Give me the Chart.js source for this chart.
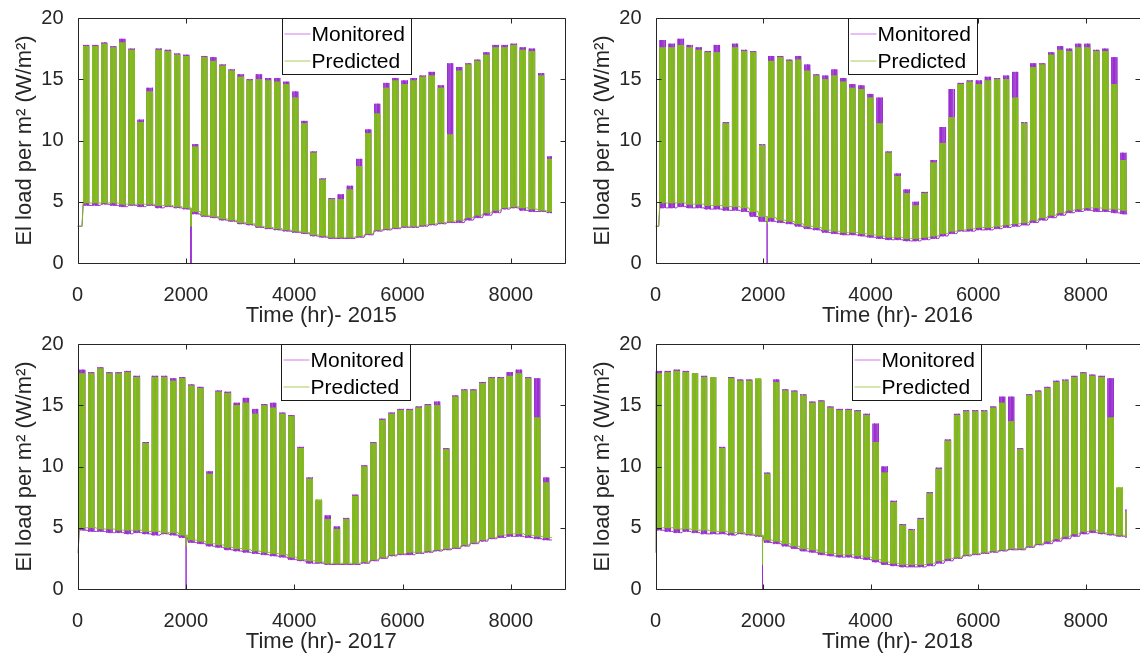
<!DOCTYPE html>
<html>
<head>
<meta charset="utf-8">
<script src="https://cdn.jsdelivr.net/npm/chart.js@4.4.1/dist/chart.umd.min.js"></script>
<style>
html,body{margin:0;padding:0;background:#fff;overflow:hidden;width:1140px;height:654px;position:relative}
canvas{position:absolute}
</style>
</head>
<body>
<canvas id="c2015" width="580" height="332" style="left:0;top:0"></canvas>
<canvas id="c2016" width="580" height="332" style="left:578px;top:0"></canvas>
<canvas id="c2017" width="580" height="332" style="left:0;top:326px"></canvas>
<canvas id="c2018" width="580" height="332" style="left:578px;top:326px"></canvas>
<script>
// ---------- tick labels ----------
const xTicks = [0, 2000, 4000, 6000, 8000];
const yTicks = [0, 5, 10, 15, 20];
const seriesNames = ['Monitored', 'Predicted'];
const years = [2015, 2016, 2017, 2018];
const yearHours = [8760, 8784, 8760, 8760];
const firstMondayHour = [96, 72, 24, 0];
const startLevel = [3.0, 3.0, 3.0, 3.0];
const dstHour = [2095, 2075, 2005, 1990];
const dstMonitored = [0, 0, 0, 0];
const dstPredicted = [3.0, 3.2, 3.5, 2.0];

// ---------- weekly working-day peaks and base loads (W/m2) ----------
const monPeak2015 = [17.8,17.8,18.0,17.7,18.3,17.5,11.7,14.3,17.5,17.4, 17.1,17.0,9.7,16.9,16.8,16.2,15.8,15.4,15.0,15.4, 15.1,15.1,14.8,14.0,11.6,9.1,6.9,5.3,5.6,6.3, 8.5,10.9,13.0,14.7,15.1,14.9,15.1,15.3,15.6,14.5, 16.3,16.0,16.3,16.6,17.2,17.8,17.8,17.9,17.6,17.5, 15.5,8.7];
const predPeak2015 = [17.7,17.7,17.9,17.6,18.0,17.4,11.5,14.0,17.4,17.3, 17.0,16.9,9.5,16.8,16.5,16.1,15.7,15.2,14.9,15.0, 14.9,14.8,14.6,13.5,11.4,9.0,6.8,5.2,5.2,6.0, 7.9,10.6,12.2,14.3,14.9,14.6,14.9,15.2,15.3,14.3, 10.5,15.7,16.2,16.5,17.0,17.6,17.6,17.8,17.4,17.3, 15.3,8.5];
const monBase2015 = [4.7,4.7,4.8,4.7,4.6,4.7,4.6,4.7,4.5,4.6, 4.5,4.4,4.0,3.8,3.7,3.5,3.4,3.2,3.1,2.9, 2.8,2.7,2.6,2.5,2.4,2.2,2.1,2.0,2.0,2.0, 2.1,2.3,2.6,2.7,2.8,2.9,2.9,3.0,3.1,3.2, 3.3,3.3,3.5,3.7,3.9,4.1,4.4,4.5,4.3,4.2, 4.2,4.1];
const predBase2015 = [4.9,4.9,4.9,4.9,4.8,4.8,4.8,4.8,4.7,4.7, 4.6,4.5,4.2,3.9,3.8,3.6,3.5,3.3,3.2,3.0, 2.9,2.8,2.7,2.6,2.5,2.3,2.2,2.1,2.1,2.1, 2.2,2.4,2.7,2.8,2.9,3.0,3.0,3.1,3.2,3.3, 3.4,3.5,3.7,3.9,4.1,4.3,4.5,4.6,4.5,4.4, 4.3,4.2];

const monPeak2016 = [18.2,17.9,18.3,17.8,17.6,17.3,17.8,11.5,17.9,17.4, 17.3,9.7,16.9,16.9,16.6,16.9,16.2,15.4,15.3,15.8, 15.1,14.6,14.5,13.8,13.5,9.1,7.3,6.0,5.0,5.8, 8.4,11.1,14.2,14.7,14.9,14.9,15.2,15.1,15.3,15.6, 11.5,16.3,16.3,17.2,17.7,17.5,17.9,17.9,17.4,17.5, 16.8,9.0];
const predPeak2016 = [17.6,17.6,17.8,17.6,17.4,17.2,17.2,11.4,17.6,17.3, 17.2,9.6,16.5,16.8,16.5,16.6,15.7,15.3,15.0,15.3, 14.8,14.3,14.2,13.5,11.4,9.0,7.1,5.7,4.7,5.7, 8.2,9.8,11.9,14.6,14.8,14.6,14.9,15.0,15.0,13.5, 11.4,16.0,16.2,17.0,17.4,17.3,17.6,17.6,17.3,17.3, 14.6,8.4];
const monBase2016 = [4.5,4.5,4.6,4.5,4.5,4.4,4.4,4.3,4.3,4.2, 3.8,3.4,3.4,3.3,3.2,3.0,2.8,2.7,2.5,2.4, 2.3,2.3,2.2,2.1,2.0,1.9,1.9,1.8,1.8,1.9, 2.0,2.2,2.4,2.6,2.6,2.7,2.7,2.8,2.9,3.0, 3.1,3.3,3.5,3.7,3.9,4.1,4.2,4.3,4.2,4.2, 4.1,4.0];
const predBase2016 = [4.9,4.9,4.9,4.8,4.8,4.7,4.7,4.6,4.6,4.5, 4.2,3.8,3.7,3.5,3.4,3.2,3.0,2.9,2.7,2.6, 2.5,2.5,2.4,2.3,2.2,2.1,2.1,2.0,2.0,2.1, 2.2,2.4,2.6,2.7,2.8,2.9,2.9,3.0,3.1,3.2, 3.3,3.5,3.7,3.9,4.1,4.3,4.4,4.5,4.5,4.4, 4.4,4.3];

const monPeak2017 = [17.9,17.7,18.1,17.7,17.7,17.8,17.4,12.0,17.4,17.4, 17.2,17.3,16.7,16.5,9.6,16.2,16.1,15.2,15.6,14.7, 15.1,15.2,14.4,14.2,11.6,9.1,7.2,6.0,5.1,5.8, 7.7,10.1,12.0,13.9,14.4,14.7,14.7,14.9,15.1,15.3, 11.5,15.8,16.3,16.3,16.9,17.3,17.3,17.7,17.9,17.3, 17.2,9.1];
const predPeak2017 = [17.6,17.6,18.0,17.6,17.6,17.7,17.3,11.9,17.3,17.3, 17.0,17.2,16.6,16.4,9.4,16.1,16.0,15.0,15.2,14.3, 15.0,14.8,14.3,14.1,11.5,9.0,7.3,5.7,4.9,5.7, 7.6,10.0,11.9,13.8,14.3,14.6,14.6,14.8,15.0,15.0, 11.4,15.7,16.2,16.2,16.8,17.2,17.2,17.4,17.6,17.2, 14.0,8.7];
const monBase2017 = [4.8,4.7,4.7,4.6,4.6,4.5,4.6,4.5,4.4,4.5, 4.4,4.2,3.8,3.7,3.5,3.4,3.2,3.1,3.0,2.9, 2.8,2.7,2.6,2.4,2.3,2.1,2.1,2.0,2.0,2.0, 2.0,2.1,2.3,2.5,2.7,2.8,2.8,2.9,3.0,3.1, 3.2,3.3,3.5,3.7,3.9,4.1,4.2,4.3,4.3,4.2, 4.1,4.0];
const predBase2017 = [5.0,5.0,4.9,4.9,4.8,4.8,4.8,4.7,4.7,4.6, 4.6,4.4,4.0,3.9,3.7,3.6,3.4,3.3,3.2,3.1, 3.0,2.9,2.8,2.6,2.4,2.3,2.2,2.1,2.1,2.1, 2.1,2.2,2.4,2.6,2.8,2.9,3.0,3.0,3.1,3.2, 3.3,3.4,3.6,3.8,4.0,4.2,4.4,4.5,4.5,4.4, 4.3,4.2];

const monPeak2018 = [17.8,17.8,17.9,17.8,17.6,17.4,17.3,11.6,17.3,17.1, 17.1,17.1,9.5,17.1,16.3,16.2,15.9,15.3,15.4,14.9, 14.7,14.7,14.6,14.3,13.5,10.0,7.2,5.3,4.9,5.8, 7.9,9.9,12.2,14.3,14.6,14.6,14.6,14.9,15.7,15.7, 11.5,15.9,16.2,16.5,17.0,17.1,17.4,17.7,17.5,17.4, 17.2,8.2,6.5];
const predPeak2018 = [17.6,17.7,17.8,17.7,17.6,17.3,17.3,11.5,17.2,17.0, 17.0,17.2,9.4,16.9,16.2,16.1,15.8,15.2,15.3,14.8, 14.6,14.6,14.5,14.2,12.0,9.5,7.1,5.2,4.8,5.7, 7.8,9.8,12.1,14.2,14.5,14.5,14.5,14.8,15.2,13.7, 11.4,15.8,16.1,16.4,16.9,17.0,17.3,17.6,17.4,17.3, 14.0,8.3,6.3];
const monBase2018 = [4.8,4.7,4.6,4.7,4.6,4.5,4.5,4.5,4.4,4.5, 4.4,4.3,3.8,3.7,3.5,3.3,3.1,3.0,2.8,2.7, 2.6,2.6,2.5,2.4,2.2,2.0,1.9,1.8,1.8,1.8, 1.9,2.1,2.3,2.5,2.7,2.8,2.9,3.0,3.1,3.2, 3.2,3.4,3.6,3.7,3.9,4.1,4.3,4.5,4.6,4.5, 4.4,4.3,4.2];
const predBase2018 = [5.0,5.0,4.9,4.9,4.8,4.8,4.7,4.7,4.6,4.6, 4.5,4.4,4.0,3.9,3.7,3.5,3.3,3.2,3.0,2.9, 2.8,2.8,2.7,2.6,2.4,2.2,2.1,2.0,2.0,2.0, 2.1,2.3,2.5,2.6,2.8,2.9,3.0,3.1,3.2,3.3, 3.3,3.5,3.7,3.9,4.1,4.3,4.5,4.7,4.8,4.6, 4.5,4.4,4.3];

const monPeaks = [monPeak2015, monPeak2016, monPeak2017, monPeak2018];
const predPeaks = [predPeak2015, predPeak2016, predPeak2017, predPeak2018];
const monBases = [monBase2015, monBase2016, monBase2017, monBase2018];
const predBases = [predBase2015, predBase2016, predBase2017, predBase2018];

// ---------- styling ----------
const FONT = '"Liberation Sans", Arial, Helvetica, sans-serif';
const AXIS = '#262626';
const MON_COLOR = '#9A2FD0';
const PRED_COLOR = '#82BF1A';
const MON_LEGEND = '#CF7EEC';
const PRED_LEGEND = '#A6D05A';
const legendOffsets = [204, 192, 203, 196];
const rightPads = [15, 18.5, 15, 18.5];

// hourly profile from weekly levels: each working day rises from base to peak and back
function buildSeries(fm, nHours, peaks, bases, lead, dipH, dipV) {
  const pts = [{x: 0, y: lead}];
  if (fm > 12) pts.push({x: fm - 12, y: lead});
  for (let k = 0; k < peaks.length; k++) {
    const w0 = fm + 168 * k;
    for (let d = 0; d < 7; d++) {
      const t = w0 + 24 * d;
      if (t >= nHours) break;
      if (d < 5) {
        pts.push({x: t + 7, y: bases[k]}, {x: t + 12, y: peaks[k]}, {x: t + 18, y: bases[k]});
      } else {
        pts.push({x: t + 12, y: bases[k]});
      }
    }
  }
  pts.push({x: nHours, y: bases[bases.length - 1]});
  const kd = Math.floor((dipH - fm) / 168);
  const b = bases[kd];
  pts.push({x: dipH - 1, y: b}, {x: dipH, y: dipV}, {x: dipH + 1, y: b});
  pts.sort((a, c) => a.x - c.x);
  return pts;
}

const framePlugin = {
  id: 'frame',
  afterDraw(chart, args, opts) {
    const {ctx, chartArea: ca, scales: {x, y}} = chart;
    const L = Math.round(ca.left) + 0.5, R = Math.round(ca.right) + 0.5;
    const T = Math.round(ca.top) + 0.5, B = Math.round(ca.bottom) + 0.5;
    ctx.save();
    ctx.strokeStyle = AXIS;
    ctx.lineWidth = 1;
    ctx.beginPath();
    ctx.rect(L, T, R - L, B - T);
    for (const v of xTicks) {
      const px = Math.round(x.getPixelForValue(v)) + 0.5;
      ctx.moveTo(px, B); ctx.lineTo(px, B - 5);
      ctx.moveTo(px, T); ctx.lineTo(px, T + 5);
    }
    for (const v of yTicks) {
      const py = Math.round(y.getPixelForValue(v)) + 0.5;
      ctx.moveTo(L, py); ctx.lineTo(L + 5, py);
      ctx.moveTo(R, py); ctx.lineTo(R - 5, py);
    }
    ctx.stroke();
    // legend box
    const bx = Math.round(ca.left + opts.legendLeft) + 0.5, by = T;
    const bw = 129, bh = 56;
    ctx.fillStyle = '#fff';
    ctx.fillRect(bx, by, bw, bh);
    ctx.strokeStyle = '#1a1a1a';
    ctx.strokeRect(bx, by, bw, bh);
    const ds = chart.data.datasets;
    const rows = [{c: MON_LEGEND, t: ds[0].label, y: 15}, {c: PRED_LEGEND, t: ds[1].label, y: 42}];
    ctx.font = '21px ' + FONT;
    ctx.textBaseline = 'middle';
    ctx.textAlign = 'left';
    for (const r of rows) {
      ctx.strokeStyle = r.c;
      ctx.lineWidth = 1;
      ctx.beginPath();
      ctx.moveTo(bx + 2, by + r.y + 0.5);
      ctx.lineTo(bx + 28, by + r.y + 0.5);
      ctx.stroke();
      ctx.fillStyle = '#000';
      ctx.fillText(r.t, bx + 29, by + r.y + 1.5);
    }
    ctx.restore();
  }
};

years.forEach((yr, i) => {
  const fm = firstMondayHour[i], nh = yearHours[i];
  const mon = buildSeries(fm, nh, monPeaks[i], monBases[i], startLevel[i], dstHour[i], dstMonitored[i]);
  const pred = buildSeries(fm, nh, predPeaks[i], predBases[i], startLevel[i], dstHour[i], dstPredicted[i]);
  new Chart(document.getElementById('c' + yr), {
    type: 'line',
    data: {
      datasets: [
        {label: seriesNames[0], data: mon, borderColor: MON_COLOR, borderWidth: 1, pointRadius: 0, tension: 0, order: 1, borderJoinStyle: 'bevel', fill: false},
        {label: seriesNames[1], data: pred, borderColor: PRED_COLOR, borderWidth: 1, pointRadius: 0, tension: 0, order: 0, borderJoinStyle: 'bevel', fill: false}
      ]
    },
    options: {
      responsive: false,
      animation: false,
      events: [],
      layout: {padding: {left: 0, right: rightPads[i], top: 15, bottom: 3.1}},
      plugins: {legend: {display: false}, tooltip: {enabled: false}, frame: {legendLeft: legendOffsets[i]}},
      scales: {
        x: {
          type: 'linear', min: 0, max: 9000,
          afterBuildTicks: s => { s.ticks = xTicks.map(v => ({value: v})); },
          afterFit: s => { s.height = 65.9; },
          grid: {display: false}, border: {display: false},
          ticks: {padding: 12, color: AXIS, font: {family: FONT, size: 20}, maxRotation: 0, autoSkip: false, callback: v => String(v)},
          title: {display: true, text: 'Time (hr)- ' + yr, color: AXIS, font: {family: FONT, size: 22}, padding: {top: 0, bottom: 0}}
        },
        y: {
          min: 0, max: 20,
          afterBuildTicks: s => { s.ticks = yTicks.map(v => ({value: v})); },
          afterFit: s => { s.width = 77.5; },
          grid: {display: false}, border: {display: false},
          ticks: {padding: 6, color: AXIS, font: {family: FONT, size: 20}, callback: v => String(v)},
          title: {display: true, text: 'El load per m\u00B2 (W/m\u00B2)', color: AXIS, font: {family: FONT, size: 22}, padding: {top: 12, bottom: 0}}
        }
      }
    },
    plugins: [framePlugin]
  });
});
</script>
</body>
</html>
